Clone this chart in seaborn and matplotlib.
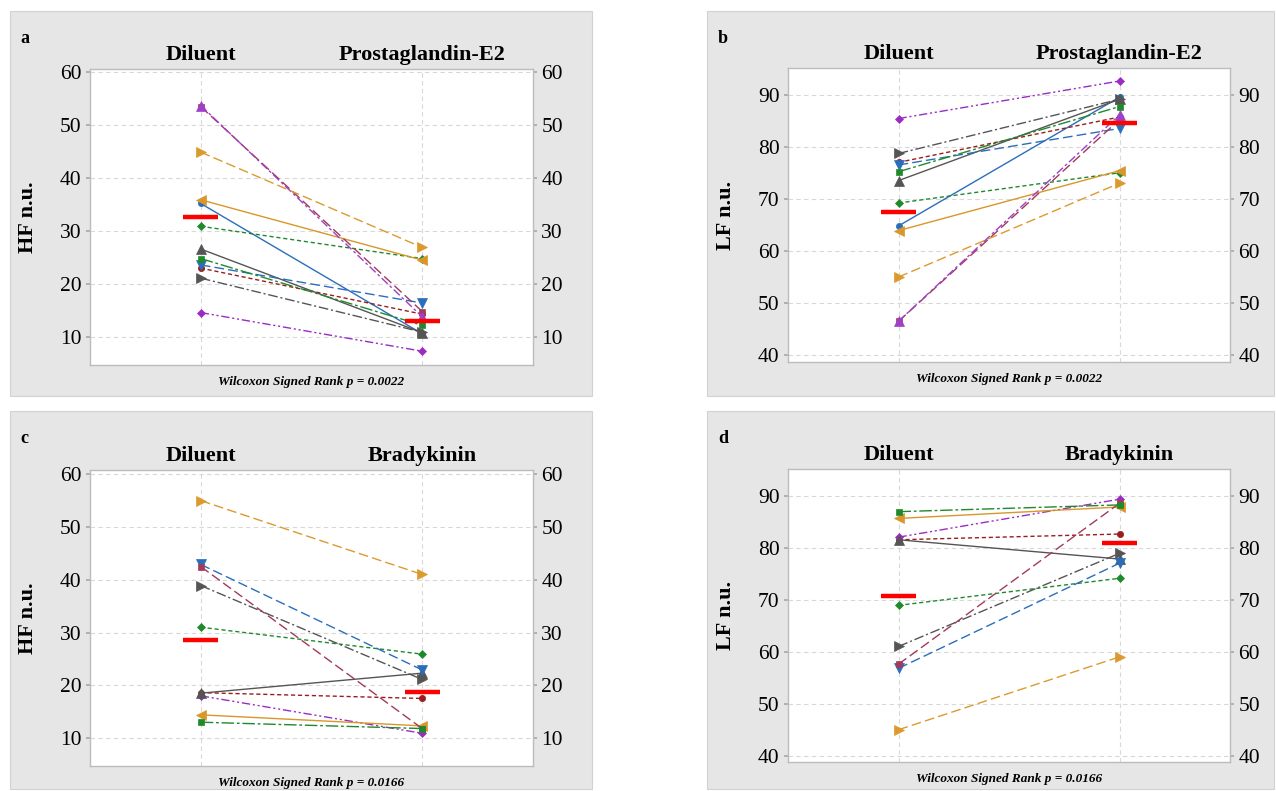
import numpy as np
import pandas as pd
import matplotlib
matplotlib.use("Agg")
import matplotlib.pyplot as plt
from matplotlib.patches import Rectangle
import seaborn as sns

sns.set_theme(style="white")
plt.rcParams['font.family'] = ['Liberation Serif', 'DejaVu Serif']
plt.rcParams['text.color'] = 'black'
plt.rcParams['axes.labelcolor'] = 'black'
plt.rcParams['xtick.labelcolor'] = 'black'
plt.rcParams['ytick.labelcolor'] = 'black'

# ---- data ----
subjects = ['S1', 'S2', 'S3', 'S4', 'S5', 'S6', 'S7', 'S8', 'S9', 'S10', 'S11', 'S12']

# prostaglandin-E2 experiment (12 subjects)
hf_dil_pge = [35.2, 23.0, 30.9, 14.6, 26.6, 35.9, 23.6, 53.5, 24.8, 53.7, 21.1, 44.9]
hf_pge     = [10.6, 14.3, 24.8, 7.3, 10.8, 24.5, 16.4, 14.8, 12.2, 13.8, 10.9, 26.9]
lf_dil_pge = [64.8, 77.0, 69.2, 85.4, 73.5, 63.9, 76.5, 46.5, 75.2, 46.5, 78.7, 55.0]
lf_pge     = [89.5, 85.7, 75.0, 92.6, 89.1, 75.4, 83.5, 85.2, 87.7, 86.1, 89.1, 73.0]

# bradykinin experiment (10 subjects)
subjects_bk = ['S2', 'S3', 'S4', 'S5', 'S6', 'S7', 'S8', 'S9', 'S11', 'S12']
hf_dil_bk = [18.6, 31.0, 18.0, 18.5, 14.4, 42.9, 42.5, 13.0, 38.9, 55.0]
hf_bk     = [17.5, 25.9, 10.9, 22.3, 12.3, 22.9, 11.8, 11.8, 21.1, 41.0]
lf_dil_bk = [81.5, 68.9, 82.0, 81.5, 85.6, 56.8, 57.6, 86.9, 61.0, 45.0]
lf_bk     = [82.6, 74.1, 89.3, 77.8, 87.8, 77.0, 88.5, 88.2, 78.9, 59.0]

# group means (red bars)
mean_a = [32.6, 13.1]
mean_b = [67.5, 84.6]
mean_c = [28.6, 18.8]
mean_d = [70.7, 80.8]

# ---- styles per subject ----
sty = {
    'S1':  dict(color='#2a6ebb', marker='o', ms=4.5, ls='-'),
    'S2':  dict(color='#9b1c1c', marker='o', ms=4.5, ls=(0, (3, 2))),
    'S3':  dict(color='#1f8a2c', marker='D', ms=4.0, ls=(0, (3, 2))),
    'S4':  dict(color='#9a2cc4', marker='D', ms=4.0, ls=(0, (6, 2, 1.5, 2, 1.5, 2))),
    'S5':  dict(color='#555555', marker='^', ms=7.5, ls='-'),
    'S6':  dict(color='#d9962a', marker='<', ms=7.5, ls='-'),
    'S7':  dict(color='#2a6ebb', marker='v', ms=7.5, ls=(0, (7, 3))),
    'S8':  dict(color='#a23a5a', marker='s', ms=5.0, ls=(0, (7, 3))),
    'S9':  dict(color='#1f8a2c', marker='s', ms=5.0, ls=(0, (9, 2, 2, 2))),
    'S10': dict(color='#a040c8', marker='^', ms=7.5, ls=(0, (6, 2, 2, 2))),
    'S11': dict(color='#555555', marker='>', ms=7.5, ls=(0, (7, 2, 1.5, 2))),
    'S12': dict(color='#dc9a2e', marker='>', ms=7.5, ls=(0, (7, 3))),
}

W, H = 1276, 791
fig = plt.figure(figsize=(W / 100, H / 100), dpi=100)
fig.patch.set_facecolor('white')


def px_rect(l, t, r, b):
    return [l / W, (H - b) / H, (r - l) / W, (b - t) / H]


# grey panel backgrounds
for (l, t, r, b) in [(10, 11, 592, 396), (707, 11, 1274, 396),
                     (10, 411, 592, 789), (707, 411, 1274, 789)]:
    fig.patches.append(Rectangle((l / W, (H - b) / H), (r - l) / W, (b - t) / H,
                                 transform=fig.transFigure, facecolor='#e6e6e6',
                                 edgecolor='#d2d2d2', lw=0.8, zorder=-5))

panels = [
    dict(rect=(90, 69, 533, 365), letter='a', lab=(20, 43), subj=subjects,
         dil=hf_dil_pge, trt=hf_pge, mean=mean_a, conds=['Diluent', 'Prostaglandin-E2'],
         ylabel='HF n.u.', ylim=(4.7, 60.6), yt=[10, 20, 30, 40, 50, 60], p='0.0022'),
    dict(rect=(788, 68, 1230, 362), letter='b', lab=(718, 43), subj=subjects,
         dil=lf_dil_pge, trt=lf_pge, mean=mean_b, conds=['Diluent', 'Prostaglandin-E2'],
         ylabel='LF n.u.', ylim=(38.7, 95.1), yt=[40, 50, 60, 70, 80, 90], p='0.0022'),
    dict(rect=(90, 470, 533, 766), letter='c', lab=(20, 443), subj=subjects_bk,
         dil=hf_dil_bk, trt=hf_bk, mean=mean_c, conds=['Diluent', 'Bradykinin'],
         ylabel='HF n.u.', ylim=(4.7, 60.8), yt=[10, 20, 30, 40, 50, 60], p='0.0166'),
    dict(rect=(788, 469, 1230, 762), letter='d', lab=(718, 443), subj=subjects_bk,
         dil=lf_dil_bk, trt=lf_bk, mean=mean_d, conds=['Diluent', 'Bradykinin'],
         ylabel='LF n.u.', ylim=(38.8, 95.1), yt=[40, 50, 60, 70, 80, 90], p='0.0166'),
]

for P in panels:
    ax = fig.add_axes(px_rect(*P['rect']))
    ax.set_facecolor('white')

    rows = []
    for i, s in enumerate(P['subj']):
        rows.append((s, P['conds'][0], 0, P['dil'][i]))
        rows.append((s, P['conds'][1], 1, P['trt'][i]))
    df = pd.DataFrame(rows, columns=['subject', 'cond', 'pos', 'value'])

    for s in P['subj']:
        st = sty[s]
        sns.lineplot(data=df[df.subject == s], x='pos', y='value', ax=ax,
                     color=st['color'], marker=st['marker'], markersize=st['ms'],
                     markeredgecolor=st['color'], markeredgewidth=0.5,
                     linestyle=st['ls'], linewidth=1.0, legend=False, zorder=3)

    # red mean bars
    for j, m in enumerate(P['mean']):
        ax.hlines(m, j - 0.08, j + 0.08, color='#ff0000', lw=3.2, zorder=5)

    ax.set_xlim(-0.5, 1.5)
    ax.set_ylim(*P['ylim'])
    ax.xaxis.tick_top()
    ax.set_xticks([0, 1])
    ax.set_xticklabels(P['conds'], fontsize=16, fontweight='bold', color='black')
    ax.tick_params(axis='x', length=0, pad=3)
    ax.set_yticks(P['yt'])
    ax.tick_params(axis='y', left=True, right=True, labelleft=True, labelright=True,
                   length=3, color='#aaaaaa', labelsize=15.5, pad=3, labelcolor='black')
    ax.grid(True, color='#d8d8d8', linestyle=(0, (4, 3)), linewidth=0.8)
    ax.set_axisbelow(True)
    for sp in ax.spines.values():
        sp.set_color('#bcbcbc')
        sp.set_linewidth(1.0)

    ax.set_ylabel(P['ylabel'], fontsize=16, fontweight='bold', color='black')
    ax.yaxis.set_label_coords(-52 / 443, 0.5)
    ax.set_xlabel('Wilcoxon Signed Rank p = ' + P['p'], fontsize=9.5,
                  fontweight='bold', fontstyle='italic', labelpad=8, color='black')
    ax.xaxis.set_label_position('bottom')

    fig.text(P['lab'][0] / W, (H - P['lab'][1]) / H, P['letter'],
             fontsize=13, fontweight='bold', color='black')

plt.savefig('out.png', dpi=100)
